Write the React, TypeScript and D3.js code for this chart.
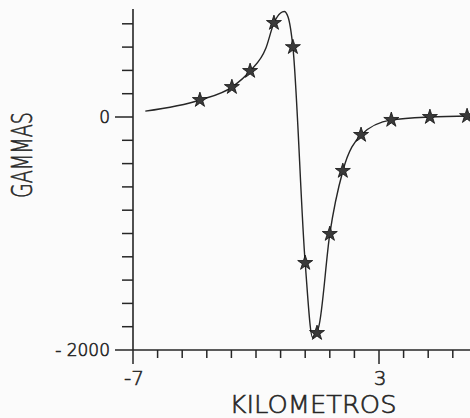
import {useEffect, useRef} from 'react';
import * as d3 from 'd3';

const [W, H] = [470, 418];

// measured anomaly (stars)
const starKm = [-4.28, -2.98, -2.24, -1.27, -0.5, 0.0, 0.48, 1.0, 1.53, 2.27, 3.5, 5.07, 6.58];
const starGammas = [146, 257, 395, 807, 600, -1253, -1854, -1004, -463, -154, -25, 0, 8];

// traced theoretical curve
const curveKm = [-6.5, -4.28, -2.98, -2.24, -1.6, -1.27, -1.0, -0.85, -0.7, -0.5, 0.0, 0.3, 0.55, 1.0, 1.53, 2.27, 3.5, 5.07, 6.7];
const curveGammas = [50, 146, 257, 395, 590, 807, 893, 905, 860, 600, -1253, -1890, -1800, -1004, -463, -154, -25, 0, 8];

const yTicks = [-2000, -1800, -1600, -1400, -1200, -1000, -800, -600, -400, -200, 0, 200, 400, 600, 800];
const yLabels = [0, -2000];
const xTicks = [-7, -6, -5, -4, -3, -2, -1, 0, 1, 2, 3, 4, 5, 6];
const xLabels = [-7, 3];

function App() {
    const ref = useRef<SVGSVGElement>(null);

    useEffect(() => {
        const svg = d3.select(ref.current);
        svg.selectAll('*').remove();

        const x = d3.scaleLinear().domain([-7, 3]).range([133, 379]);
        const y = d3.scaleLinear().domain([0, -2000]).range([117, 350]);
        const ink = '#262626';
        const font = '"DejaVu Sans", sans-serif';

        // axes
        svg.append('line').attr('x1', x(-7)).attr('x2', x(-7)).attr('y1', 9).attr('y2', y(-2000))
            .attr('stroke', ink).attr('stroke-width', 1.6);
        svg.append('line').attr('x1', x(-7)).attr('x2', W).attr('y1', y(-2000)).attr('y2', y(-2000))
            .attr('stroke', ink).attr('stroke-width', 1.6);

        svg.append('g').selectAll('line').data(yTicks).join('line')
            .attr('x1', d => yLabels.includes(d) ? x(-7) - 18 : x(-7) - 11)
            .attr('x2', x(-7))
            .attr('y1', d => y(d)).attr('y2', d => y(d))
            .attr('stroke', ink).attr('stroke-width', 1.5);

        svg.append('g').selectAll('line').data(xTicks).join('line')
            .attr('x1', d => x(d)).attr('x2', d => x(d))
            .attr('y1', y(-2000))
            .attr('y2', d => xLabels.includes(d) ? y(-2000) + 14 : y(-2000) + 8)
            .attr('stroke', ink).attr('stroke-width', 1.5);

        // labels (thin plotter-like lettering)
        const txt = (sel: any) => sel
            .attr('font-family', font).attr('font-weight', 200)
            .attr('fill', ink).attr('stroke', ink).attr('stroke-width', 0.6);

        svg.append('g').selectAll('text').data(yLabels).join('text')
            .attr('x', x(-7) - 23)
            .attr('y', d => y(d) + 6)
            .attr('text-anchor', 'end')
            .attr('font-size', 17)
            .call(txt)
            .text(d => d === 0 ? '0' : '- 2000');

        svg.append('g').selectAll('text').data(xLabels).join('text')
            .attr('x', d => x(d) + 1)
            .attr('y', 385)
            .attr('text-anchor', 'middle')
            .attr('font-size', 20)
            .call(txt)
            .text(d => d);

        svg.append('text')
            .attr('transform', 'translate(32,155) rotate(-90)')
            .attr('text-anchor', 'middle')
            .attr('font-size', 29)
            .attr('textLength', 86).attr('lengthAdjust', 'spacingAndGlyphs')
            .call(txt)
            .text('GAMMAS');

        svg.append('text')
            .attr('x', 313).attr('y', 413)
            .attr('text-anchor', 'middle')
            .attr('font-size', 25)
            .attr('textLength', 167).attr('lengthAdjust', 'spacingAndGlyphs')
            .call(txt)
            .text('KILOMETROS');

        // curve
        const pts = curveKm.map((k, i) => [k, curveGammas[i]] as [number, number]);
        const line = d3.line<[number, number]>()
            .x(d => x(d[0])).y(d => y(d[1]))
            .curve(d3.curveMonotoneX);
        svg.append('path').attr('d', line(pts)).attr('fill', 'none')
            .attr('stroke', ink).attr('stroke-width', 1.4);

        // stars
        const star = d3.symbol().type(d3.symbolStar).size(70);
        svg.append('g').selectAll('path').data(starKm).join('path')
            .attr('transform', (d, i) => `translate(${x(d)},${y(starGammas[i])})`)
            .attr('d', star())
            .attr('fill', '#3a3a3a')
            .attr('stroke', '#111').attr('stroke-width', 0.8);
    }, []);

    return (
        <div style={{position: 'fixed', left: 0, top: 0, background: '#fbfbfb'}}>
            <svg ref={ref} width={W} height={H} style={{display: 'block'}} />
        </div>
    );
}

export default App;
